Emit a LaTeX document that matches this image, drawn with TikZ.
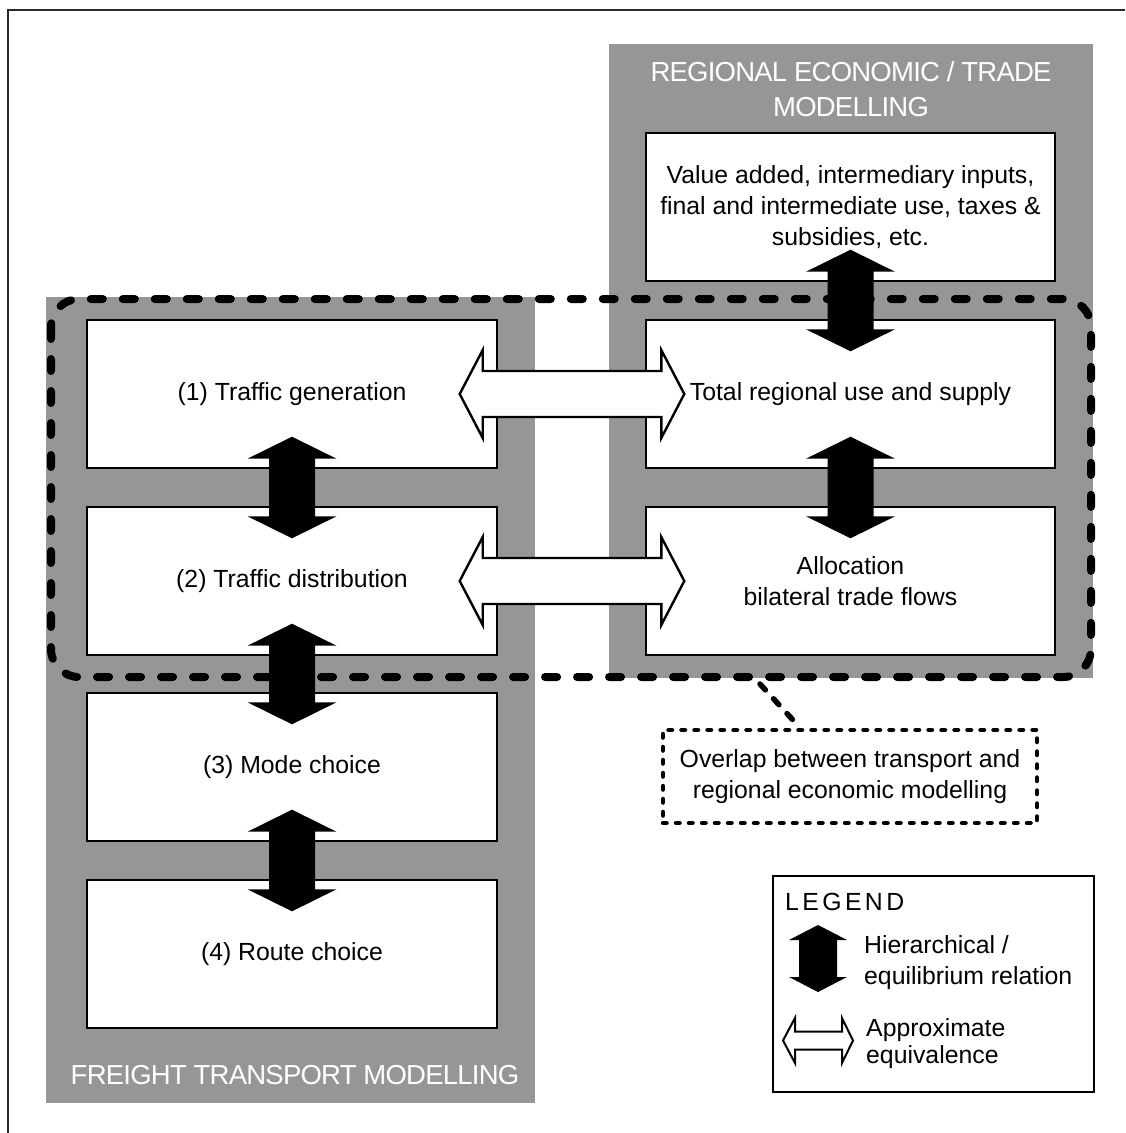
\documentclass[tikz,border=0pt]{standalone}
\usepackage{fontspec}
\setmainfont{Liberation Sans}
\newfontfamily\headfamily[LetterSpace=-2.8]{Liberation Sans}
\usetikzlibrary{calc}

\definecolor{panelgray}{RGB}{150,150,150}
\definecolor{framegray}{RGB}{40,40,40}

\newcommand{\bodyfont}{\fontsize{24.8}{31}\selectfont}
\newcommand{\headfont}{\headfamily\fontsize{27.5}{35}\selectfont}

% solid double-headed arrow linking two stacked boxes
\newcommand{\fatvarrow}[2]{%
  \fill[black] ($(#1.south)+(0pt,32pt)$)
    -- ++(44.5pt,-22pt) -- ++(-21.5pt,0pt)
    -- ($(#2.north)+(23pt,-10pt)$) -- ++(21.5pt,0pt)
    -- ($(#2.north)+(0pt,-32pt)$)
    -- ++(-44.5pt,22pt) -- ++(21.5pt,0pt)
    -- ($(#1.south)+(-23pt,10pt)$) -- ++(-21.5pt,0pt) -- cycle;}

% hollow double-headed arrow linking two boxes side by side
\newcommand{\hollowharrow}[2]{%
  \draw[line width=2.4pt, fill=white, line join=miter]
    ($(#1.east)+(-38pt,0pt)$)
    -- ++(23pt,44pt) -- ++(0pt,-21pt)
    -- ($(#2.west)+(16pt,23pt)$) -- ++(0pt,21pt)
    -- ($(#2.west)+(39pt,0pt)$)
    -- ++(-23pt,-44pt) -- ++(0pt,21pt)
    -- ($(#1.east)+(-15pt,-23pt)$) -- ++(0pt,-21pt) -- cycle;}

\begin{document}
\begin{tikzpicture}[x=1pt,y=-1pt,
  panel/.style={fill=panelgray},
  stage/.style={draw=black, line width=1.4pt, fill=white,
    minimum height=148pt, inner sep=0pt, align=center, font=\bodyfont},
  leftstage/.style={stage, minimum width=410pt},
  rightstage/.style={stage, minimum width=409pt},
  panelhead/.style={text=white, font=\headfont, align=center, inner sep=0pt},
  overlapline/.style={line width=8pt, dash pattern=on 12pt off 20pt,
    line cap=round, rounded corners=28pt},
  calloutbox/.style={draw=black, line width=4.5pt, dash pattern=on 3.5pt off 9.5pt,
    line cap=round, minimum width=374pt, minimum height=93pt, inner sep=0pt,
    align=center, font=\bodyfont},
  legendtext/.style={anchor=west, align=left, inner sep=0pt, font=\bodyfont}]

\useasboundingbox (0,0) rectangle (1125,1133);

% page frame
\draw[framegray, line width=1.5pt] (8,1133) -- (8,10) -- (1125,10);

% modelling panels
\fill[panel] (46,297) rectangle (535,1103);
\fill[panel] (609,44) rectangle (1093,678);

% freight transport stages
\node[leftstage] (gen)   at (292,394) {(1) Traffic generation};
\node[leftstage] (dist)  at (292,581) {(2) Traffic distribution};
\node[leftstage] (mode)  at (292,767) {(3) Mode choice};
\node[leftstage] (route) at (292,954) {(4) Route choice};

% regional economic stages
\node[rightstage] (value)  at (850.5,207) {Value added, intermediary inputs,\\final and intermediate use, taxes \&\\subsidies, etc.};
\node[rightstage] (supply) at (850.5,394) {Total regional use and supply};
\node[rightstage] (alloc)  at (850.5,581) {Allocation\\bilateral trade flows};

% overlap region
\draw[overlapline] (51,299) rectangle (1091,677);
\coordinate (ovtail) at (760,684);
\node[calloutbox] (overlap) at (850,776.5) {Overlap between transport and\\regional economic modelling};
\draw[line width=5.5pt, dash pattern=on 8pt off 12pt, line cap=round]
  (ovtail) -- ([xshift=-50pt]overlap.north);

% hierarchical relations
\fatvarrow{gen}{dist}
\fatvarrow{dist}{mode}
\fatvarrow{mode}{route}
\fatvarrow{value}{supply}
\fatvarrow{supply}{alloc}

% approximate equivalences
\hollowharrow{gen}{supply}
\hollowharrow{dist}{alloc}

% panel titles
\node[panelhead] (rtitle) at (851,89.5) {REGIONAL ECONOMIC / TRADE\\MODELLING};
\node[panelhead] (ltitle) at (295,1075) {FREIGHT TRANSPORT MODELLING};

% legend
\node[draw=black, line width=1.5pt, minimum width=321pt, minimum height=216pt,
  inner sep=0pt] (legend) at (933.5,984) {};
\node[anchor=west, inner sep=0pt, font=\bodyfont] (legtitle) at (785,902)
  {L\kern3.4pt E\kern3.4pt G\kern3.4pt E\kern3.4pt N\kern3.4pt D};
\fill[black] (818,925) -- (847,940) -- (837,940) -- (837,977) -- (847,977)
  -- (818,992) -- (789,977) -- (799,977) -- (799,940) -- (789,940) -- cycle;
\node[legendtext] (legfat) at (864,963) {Hierarchical /\\equilibrium relation};
\draw[line width=2pt, fill=white, line join=miter]
  (783,1040.5) -- (795,1018) -- (795,1031.5) -- (842,1031.5) -- (842,1018)
  -- (853,1040.5) -- (842,1063) -- (842,1049.5) -- (795,1049.5) -- (795,1063) -- cycle;
\node[legendtext, font=\fontsize{24.8}{27.5}\selectfont] (leghollow) at (866,1043.5)
  {Approximate\\equivalence};
\end{tikzpicture}
\end{document}
